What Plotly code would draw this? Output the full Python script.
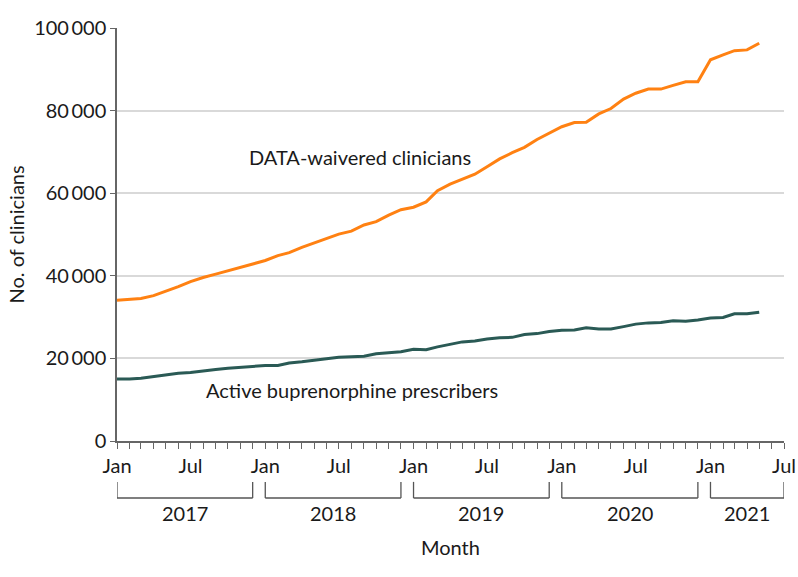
import pandas as pd
import plotly.graph_objects as go

# Monthly data, Jan 2017 - May 2021
months = pd.date_range("2017-01-01", "2021-05-01", freq="MS")

waivered = [
    34.1, 34.4, 34.5, 35.2, 36.2, 37.4, 38.6, 39.6, 40.4, 41.2, 42.2, 42.9,
    43.7, 44.9, 45.6, 46.9, 48.0, 49.0, 50.1, 50.8, 52.3, 53.1, 54.7, 56.0,
    56.6, 57.9, 60.6, 62.2, 63.4, 64.6, 66.4, 68.3, 69.8, 71.1, 73.0, 74.5,
    76.1, 77.1, 77.2, 79.2, 80.5, 82.8, 84.2, 85.2, 85.2, 86.1, 87.0, 87.0,
    92.3, 93.5, 94.5, 94.7, 96.3,
]
prescribers = [
    15.0, 15.0, 15.2, 15.6, 16.0, 16.4, 16.6, 17.0, 17.3, 17.6, 17.8, 18.1,
    18.3, 18.3, 18.9, 19.2, 19.6, 19.9, 20.3, 20.4, 20.5, 21.1, 21.4, 21.6,
    22.2, 22.1, 22.8, 23.5, 24.0, 24.2, 24.7, 25.0, 25.1, 25.8, 26.0, 26.5,
    26.8, 26.9, 27.4, 27.1, 27.1, 27.7, 28.3, 28.6, 28.7, 29.1, 29.0, 29.3,
    29.8, 29.9, 30.8, 30.8, 31.2,
]
waivered = [v * 1000 for v in waivered]
prescribers = [v * 1000 for v in prescribers]

series_names = ["DATA-waivered clinicians", "Active buprenorphine prescribers"]
series_colors = ["#FF8112", "#2A5A55"]

y_ticks = [0, 20000, 40000, 60000, 80000, 100000]
tick_months = pd.date_range("2017-01-01", "2021-07-01", freq="MS")
tick_text = ["Jan" if d.month == 1 else ("Jul" if d.month == 7 else "") for d in tick_months]

years = ["2017", "2018", "2019", "2020", "2021"]
year_starts = ["2017-01-01", "2018-01-01", "2019-01-01", "2020-01-01", "2021-01-01"]
year_ends = ["2017-12-01", "2018-12-01", "2019-12-01", "2020-12-01", "2021-07-01"]

FONT = "Lato"
FS = 20
TXT = "#1a1a1a"
GREY = "#555555"

fig = go.Figure()
fig.add_trace(go.Scatter(x=months, y=waivered, mode="lines",
                         line=dict(color=series_colors[0], width=3), name=series_names[0]))
fig.add_trace(go.Scatter(x=months, y=prescribers, mode="lines",
                         line=dict(color=series_colors[1], width=3), name=series_names[1]))

fig.add_annotation(x="2017-11-18", y=68800, xref="x", yref="y", text=series_names[0],
                   showarrow=False, xanchor="left", yanchor="middle",
                   font=dict(family=FONT, size=FS, color=TXT))
fig.add_annotation(x="2017-08-04", y=12300, xref="x", yref="y", text=series_names[1],
                   showarrow=False, xanchor="left", yanchor="middle",
                   font=dict(family=FONT, size=FS, color=TXT))

# Year brackets
y_top, y_bot, y_lab = -0.099, -0.138, -0.174
for yr, s, e in zip(years, year_starts, year_ends):
    fig.add_shape(type="line", xref="x", yref="paper", x0=s, x1=s, y0=y_top, y1=y_bot,
                  line=dict(color=GREY, width=1.3))
    fig.add_shape(type="line", xref="x", yref="paper", x0=s, x1=e, y0=y_bot, y1=y_bot,
                  line=dict(color=GREY, width=1.3))
    fig.add_shape(type="line", xref="x", yref="paper", x0=e, x1=e, y0=y_top, y1=y_bot,
                  line=dict(color=GREY, width=1.3))
    mid = pd.Timestamp(s) + (pd.Timestamp(e) - pd.Timestamp(s)) / 2
    fig.add_annotation(x=mid, y=y_lab, xref="x", yref="paper", text=yr, showarrow=False,
                       xanchor="center", yanchor="middle",
                       font=dict(family=FONT, size=FS, color=TXT))

fig.add_annotation(x=0.5, y=-0.257, xref="paper", yref="paper", text="Month", showarrow=False,
                   xanchor="center", yanchor="middle", font=dict(family=FONT, size=FS, color=TXT))
fig.add_annotation(x=0, y=0.5, xref="paper", yref="paper", text="No. of clinicians",
                   showarrow=False, textangle=-90, xanchor="center", yanchor="middle",
                   xshift=-102, font=dict(family=FONT, size=FS, color=TXT))

fig.update_layout(
    width=798, height=577,
    margin=dict(l=117, r=14, t=28, b=136, autoexpand=False),
    plot_bgcolor="white", paper_bgcolor="white",
    showlegend=False,
    separators=".\u2009",
    font=dict(family=FONT, size=FS, color=TXT),
    xaxis=dict(
        type="date",
        range=["2017-01-01", "2021-07-01"],
        tickvals=list(tick_months), ticktext=tick_text,
        ticks="outside", ticklen=6, tickwidth=1, tickcolor="#666666",
        showline=True, linecolor="#666666", linewidth=1.5,
        showgrid=False, zeroline=False, automargin=False,
        tickfont=dict(family=FONT, size=FS, color=TXT),
    ),
    yaxis=dict(
        range=[0, 100000],
        tickvals=y_ticks, tickformat=",d",
        ticks="outside", ticklen=5, tickwidth=1, tickcolor="#666666",
        showline=True, linecolor="#666666", linewidth=1.5,
        showgrid=True, gridcolor="#d9d9d9", gridwidth=1.5,
        zeroline=False, automargin=False,
        tickfont=dict(family=FONT, size=FS, color=TXT),
    ),
)

fig.write_html("out.html", config={"displayModeBar": False},
               post_script="document.body.style.margin='0';")
